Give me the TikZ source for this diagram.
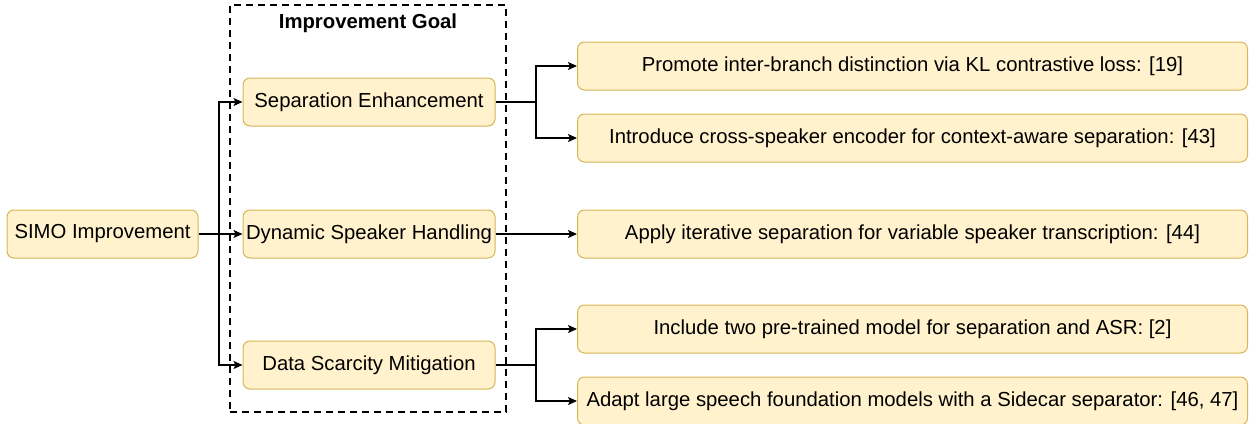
\documentclass[tikz,border=0pt]{standalone}
\usepackage{fontspec}
\setmainfont{Liberation Sans}
\usetikzlibrary{arrows.meta}
\definecolor{boxfill}{HTML}{FFF2CC}
\definecolor{boxline}{HTML}{D6B656}
\begin{document}
\begin{tikzpicture}[x=1pt,y=-1pt,
  box/.style={draw=boxline,fill=boxfill,rounded corners=7pt,line width=1pt,minimum height=48pt,inner sep=0pt,font=\fontsize{20.3}{23}\selectfont,anchor=center},
  conn/.style={line width=1.2pt,-{Stealth[length=9pt,width=8pt,inset=2pt]}},
  link/.style={line width=1.2pt}]
\useasboundingbox (0,0) rectangle (1250,423);
% dashed group
\node[draw,line width=1.8pt,dash pattern=on 7pt off 5pt,minimum width=276pt,minimum height=407pt,inner sep=0pt] (grp) at (368,208.5) {};
\node[font=\fontsize{20.3}{23}\selectfont\bfseries] (title) at (368,23) {Improvement Goal};
% nodes
\node[box,minimum width=191pt] (simo) at (102.5,234) {SIMO Improvement};
\node[box,minimum width=252pt] (sep) at (369,102) {Separation Enhancement};
\node[box,minimum width=252pt] (dyn) at (369,234) {Dynamic Speaker Handling};
\node[box,minimum width=252pt] (data) at (369,365) {Data Scarcity Mitigation};
\node[box,minimum width=670pt] (r1) at (912.5,66) {Promote inter-branch distinction via KL contrastive loss: [19]};
\node[box,minimum width=670pt] (r2) at (912.5,138) {Introduce cross-speaker encoder for context-aware separation: [43]};
\node[box,minimum width=670pt] (r3) at (912.5,234) {Apply iterative separation for variable speaker transcription: [44]};
\node[box,minimum width=670pt] (r4) at (912.5,329) {Include two pre-trained model for separation and ASR: [2]};
\node[box,minimum width=670pt] (r5) at (912.5,401) {Adapt large speech foundation models with a Sidecar separator: [46, 47]};
% branch coordinates
\coordinate (tr) at (219,0);
\coordinate (b1) at (536,0);
% connectors
\draw[conn] (simo.east) -| (tr |- sep.west) -- (sep.west);
\draw[conn] (simo.east) -- (dyn.west);
\draw[conn] (simo.east) -| (tr |- data.west) -- (data.west);
\draw[conn] (sep.east) -| (b1 |- r1.west) -- (r1.west);
\draw[conn] (sep.east) -| (b1 |- r2.west) -- (r2.west);
\draw[conn] (dyn.east) -- (r3.west);
\draw[conn] (data.east) -| (b1 |- r4.west) -- (r4.west);
\draw[conn] (data.east) -| (b1 |- r5.west) -- (r5.west);
\end{tikzpicture}
\end{document}
